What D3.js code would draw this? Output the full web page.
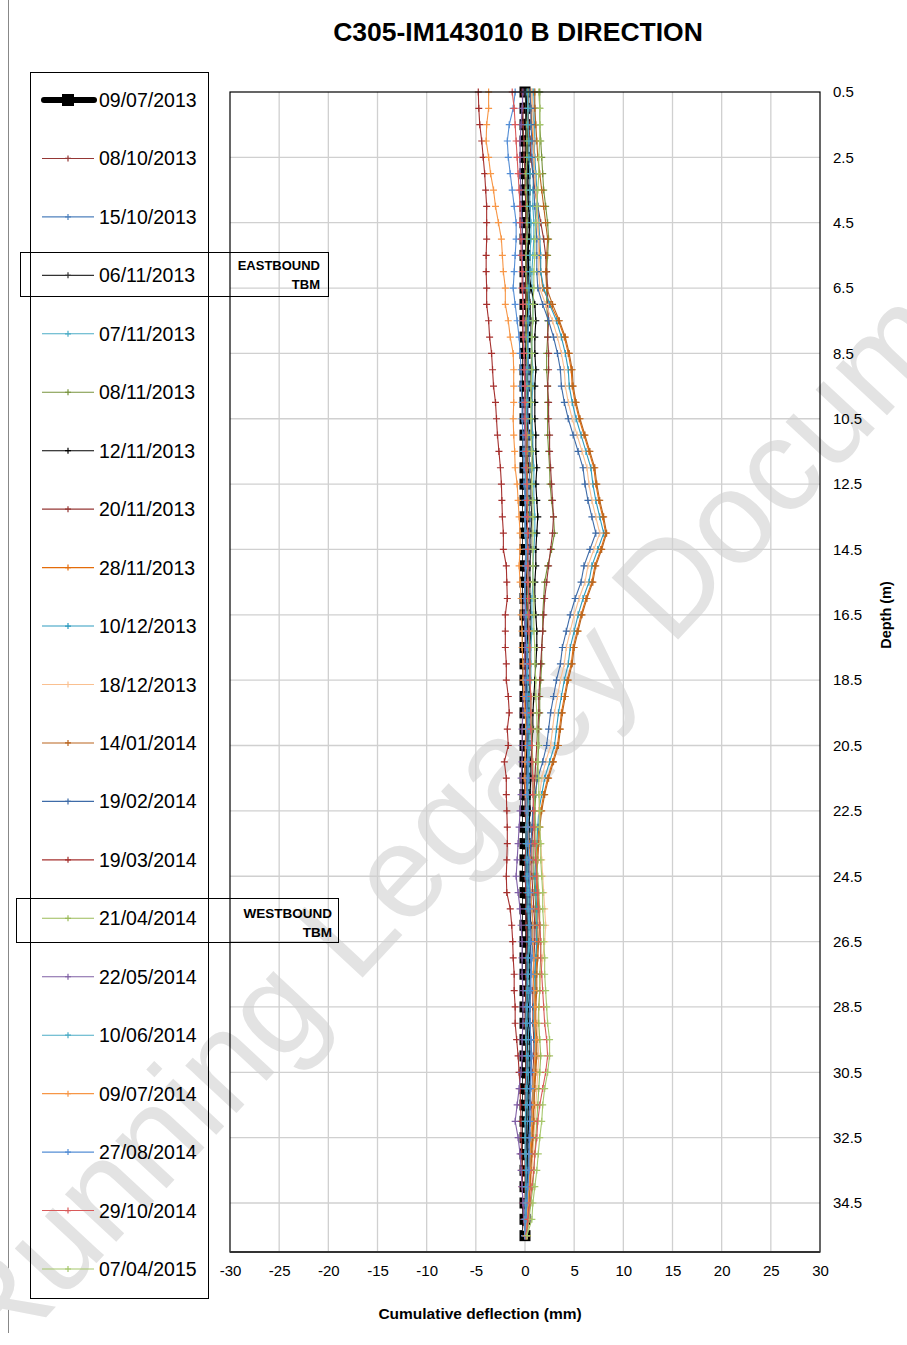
<!DOCTYPE html>
<html><head><meta charset="utf-8">
<script src="https://cdn.jsdelivr.net/npm/d3@7"></script>
<style>
body{margin:0;background:#fff}
svg{display:block}
text{font-family:"Liberation Sans",Arial,sans-serif;fill:#000}
</style>
</head><body>
<svg id="c" width="907" height="1345"></svg>
<script>
// ---------- DATA ----------
const depths = [0.5,1,1.5,2,2.5,3,3.5,4,4.5,5,5.5,6,6.5,7,7.5,8,8.5,9,9.5,10,10.5,11,11.5,12,12.5,13,13.5,14,14.5,15,15.5,16,16.5,17,17.5,18,18.5,19,19.5,20,20.5,21,21.5,22,22.5,23,23.5,24,24.5,25,25.5,26,26.5,27,27.5,28,28.5,29,29.5,30,30.5,31,31.5,32,32.5,33,33.5,34,34.5,35,35.5];
const xTicks = [-30,-25,-20,-15,-10,-5,0,5,10,15,20,25,30];
const yTicks = [0.5,2.5,4.5,6.5,8.5,10.5,12.5,14.5,16.5,18.5,20.5,22.5,24.5,26.5,28.5,30.5,32.5,34.5];
const dates = ["09/07/2013","08/10/2013","15/10/2013","06/11/2013","07/11/2013","08/11/2013","12/11/2013","20/11/2013","28/11/2013","10/12/2013","18/12/2013","14/01/2014","19/02/2014","19/03/2014","21/04/2014","22/05/2014","10/06/2014","09/07/2014","27/08/2014","29/10/2014","07/04/2015"];
const colors = ["#000000","#953735","#4F81BD","#333333","#4BACC6","#77933C","#000000","#953735","#E46C0A","#2E9BBF","#FAC090","#B9651F","#3E6BA8","#A5302E","#9BBB59","#7F5FA5","#4BACC6","#F79646","#558ED5","#D95A5A","#A6C76C"];

const d20130709 = [0,0,0,0,0,0,0,0,0,0, 0,0,0,0,0,0,0,0,0,0, 0,0,0,0,0,0,0,0,0,0, 0,0,0,0,0,0,0,0,0,0, 0,0,0,0,0,0,0,0,0,0, 0,0,0,0,0,0,0,0,0,0, 0,0,0,0,0,0,0,0,0,0, 0];
const d20131008 = [-0.3,-0.2,-0.2,-0.1,-0.1,0.0,0.0,0.1,0.1,0.1, 0.1,0.1,0.0,0.1,0.1,0.2,0.2,0.1,0.1,0.2, 0.2,0.2,0.3,0.3,0.2,0.2,0.3,0.2,0.2,0.1, 0.1,0.1,0.2,0.2,0.1,0.1,0.0,0.0,0.1,0.1, 0.0,0.0,-0.1,0.0,0.0,0.1,0.1,0.0,0.0,0.1, 0.1,0.1,0.2,0.1,0.1,0.1,0.0,0.0,0.1,0.1, 0.1,0.0,0.0,0.1,0.1,0.0,0.0,0.0,0.0,0.0, 0.0];
const d20131015 = [0.4,0.4,0.3,0.3,0.2,0.2,0.2,0.3,0.3,0.2, 0.2,0.3,0.3,0.4,0.4,0.3,0.3,0.4,0.4,0.3, 0.3,0.4,0.4,0.5,0.4,0.4,0.5,0.5,0.4,0.4, 0.3,0.3,0.4,0.4,0.3,0.3,0.3,0.2,0.2,0.3, 0.3,0.2,0.2,0.1,0.1,0.2,0.2,0.1,0.1,0.2, 0.2,0.3,0.3,0.2,0.2,0.2,0.1,0.1,0.2,0.2, 0.2,0.2,0.1,0.1,0.1,0.1,0.1,0.1,0.0,0.0, 0.0];
const d20131106 = [0.0,0.1,0.1,0.2,0.2,0.2,0.3,0.3,0.3,0.3, 0.3,0.3,0.4,0.5,0.6,0.6,0.7,0.6,0.6,0.7, 0.7,0.7,0.8,0.7,0.6,0.6,0.7,0.6,0.6,0.5, 0.5,0.5,0.6,0.6,0.5,0.5,0.5,0.4,0.4,0.4, 0.3,0.3,0.3,0.2,0.2,0.2,0.2,0.2,0.3,0.3, 0.3,0.3,0.3,0.3,0.3,0.2,0.2,0.2,0.2,0.3, 0.3,0.3,0.2,0.2,0.2,0.2,0.1,0.1,0.1,0.1, 0.0];
const d20131107 = [0.9,1.0,1.0,1.0,0.9,0.9,0.8,0.8,0.9,0.9, 0.8,0.7,0.7,0.8,0.8,0.7,0.7,0.8,0.8,0.7, 0.7,0.8,0.8,0.9,0.9,0.9,1.0,1.0,0.9,0.8, 0.8,0.7,0.7,0.7,0.6,0.6,0.6,0.5,0.5,0.5, 0.5,0.4,0.4,0.4,0.3,0.4,0.4,0.3,0.3,0.4, 0.4,0.5,0.5,0.4,0.4,0.4,0.3,0.3,0.4,0.4, 0.4,0.3,0.3,0.3,0.3,0.2,0.2,0.2,0.1,0.1, 0.0];
const d20131108 = [1.5,1.5,1.5,1.6,1.7,1.8,1.9,2.1,2.3,2.4, 2.3,2.2,2.2,2.2,2.3,2.3,2.2,2.2,2.3,2.3, 2.3,2.3,2.4,2.5,2.55,2.7,2.9,3.0,2.7,2.3, 2.0,1.9,1.8,1.8,1.7,1.7,1.6,1.5,1.5,1.4, 1.4,1.3,1.2,1.1,1.0,1.0,0.9,0.9,0.9,1.0, 1.1,1.1,1.2,1.1,1.1,1.0,1.0,1.0,1.1,1.1, 1.0,0.9,0.9,0.8,0.7,0.6,0.5,0.5,0.4,0.3, 0.2];
const d20131112 = [0.2,0.2,0.3,0.3,0.3,0.4,0.4,0.4,0.5,0.4, 0.3,0.4,0.6,1.0,1.1,1.0,1.0,1.1,1.0,1.0, 1.0,1.1,1.1,1.2,1.1,1.2,1.3,1.2,1.1,1.1, 1.0,1.0,1.1,1.2,1.2,1.1,1.0,0.9,0.8,0.8, 0.7,0.6,0.6,0.5,0.5,0.4,0.4,0.4,0.4,0.5, 0.5,0.6,0.6,0.5,0.5,0.5,0.4,0.4,0.5,0.5, 0.5,0.4,0.4,0.4,0.3,0.3,0.3,0.2,0.2,0.1, 0.1];
const d20131120 = [0.3,0.3,0.4,0.5,0.6,0.8,1.0,1.3,1.6,1.9, 2.1,2.2,2.3,2.3,2.4,2.3,2.4,2.4,2.3,2.4, 2.4,2.5,2.5,2.6,2.7,2.8,2.9,2.8,2.6,2.4, 2.2,2.0,1.9,1.8,1.7,1.6,1.5,1.4,1.4,1.3, 1.2,1.1,1.0,0.9,0.8,0.8,0.7,0.7,0.7,0.8, 0.9,1.0,1.0,0.9,0.9,0.8,0.8,0.8,0.9,0.9, 0.8,0.8,0.7,0.7,0.6,0.5,0.5,0.4,0.3,0.2, 0.1];
const d20131128 = [0.6,0.6,0.7,0.8,0.9,1.0,1.1,1.2,1.3,1.4, 1.5,1.6,1.8,2.6,3.4,4.0,4.4,4.7,4.8,5.1, 5.5,6.0,6.5,7.0,7.2,7.5,7.9,8.2,7.7,7.1, 6.8,6.2,5.7,5.3,4.9,4.7,4.3,4.0,3.7,3.5, 3.3,2.8,2.3,1.9,1.6,1.4,1.3,1.2,1.1,1.2, 1.3,1.3,1.3,1.2,1.1,1.1,1.0,1.0,1.1,1.1, 1.0,0.9,0.9,0.8,0.7,0.6,0.5,0.5,0.4,0.3, 0.2];
const d20131210 = [0.8,0.8,0.9,0.9,1.0,1.1,1.2,1.3,1.4,1.5, 1.6,1.6,1.9,2.5,3.2,3.7,4.1,4.4,4.5,4.8, 5.2,5.7,6.2,6.7,6.9,7.2,7.6,8.0,7.4,6.8, 6.5,5.9,5.4,5.0,4.6,4.4,4.0,3.7,3.4,3.2, 3.0,2.5,2.0,1.7,1.4,1.3,1.2,1.1,1.0,1.1, 1.2,1.2,1.2,1.1,1.0,1.0,0.9,0.9,1.0,1.0, 0.9,0.8,0.8,0.7,0.6,0.5,0.5,0.4,0.3,0.3, 0.2];
const d20131218 = [0.7,0.8,0.8,0.9,0.9,1.0,1.1,1.2,1.3,1.4, 1.4,1.4,1.5,2.1,2.8,3.3,3.7,4.0,4.1,4.4, 4.8,5.3,5.8,6.3,6.5,6.8,7.2,7.6,7.0,6.4, 6.1,5.5,5.0,4.6,4.2,4.0,3.6,3.3,3.0,2.8, 2.6,2.1,1.7,1.5,1.4,1.5,1.6,1.7,1.8,1.9, 2.0,2.1,2.0,1.8,1.6,1.5,1.4,1.3,1.3,1.4, 1.3,1.2,1.1,1.0,0.9,0.8,0.7,0.6,0.5,0.4, 0.2];
const d20140114 = [1.0,1.0,1.1,1.2,1.3,1.5,1.7,1.9,2.1,2.3, 2.2,2.1,2.2,2.8,3.5,4.1,4.5,4.8,4.9,5.2, 5.6,6.1,6.6,7.1,7.3,7.6,8.0,8.3,7.8,7.2, 6.9,6.3,5.8,5.4,5.0,4.8,4.4,4.1,3.8,3.6, 3.4,2.9,2.4,2.0,1.7,1.5,1.4,1.3,1.2,1.3, 1.4,1.5,1.4,1.3,1.2,1.2,1.1,1.1,1.2,1.2, 1.1,1.0,0.9,0.9,0.8,0.7,0.6,0.5,0.4,0.3, 0.2];
const d20140219 = [0.5,0.6,0.6,0.7,0.7,0.8,0.9,1.0,1.1,1.2, 1.2,1.2,1.3,1.8,2.4,2.9,3.3,3.6,3.7,4.0, 4.4,4.9,5.4,5.9,6.1,6.4,6.8,7.2,6.6,6.0, 5.7,5.1,4.6,4.2,3.8,3.6,3.2,2.9,2.6,2.4, 2.2,1.8,1.3,1.0,0.8,0.7,0.6,0.5,0.5,0.6, 0.7,0.8,0.8,0.7,0.6,0.6,0.5,0.5,0.6,0.7, 0.6,0.5,0.5,0.5,0.4,0.4,0.3,0.3,0.2,0.2, 0.1];
const d20140319 = [-4.75,-4.7,-4.6,-4.4,-4.25,-4.1,-4.0,-3.9,-3.9,-3.9, -3.95,-3.95,-3.9,-3.9,-3.7,-3.6,-3.4,-3.3,-3.2,-3.0, -2.9,-2.8,-2.65,-2.5,-2.4,-2.35,-2.3,-2.2,-2.2,-1.9, -1.85,-1.8,-2.0,-2.0,-2.0,-1.9,-1.9,-1.7,-1.6,-1.8, -1.7,-2.1,-1.9,-1.9,-1.85,-1.8,-1.8,-1.85,-1.9,-1.85, -1.5,-1.35,-1.25,-1.2,-1.1,-1.1,-1.0,-1.0,-0.85,-0.7, -0.6,-0.5,-0.45,-0.4,-0.4,-0.35,-0.3,-0.3,-0.2,-0.15, 0.0];
const d20140421 = [0.3,0.3,0.2,0.2,0.2,0.1,0.1,0.2,0.2,0.2, 0.1,0.1,0.2,0.2,0.1,0.1,0.2,0.2,0.2,0.1, 0.1,0.2,0.2,0.2,0.2,0.3,0.3,0.2,0.2,0.2, 0.3,0.3,0.3,0.4,0.4,0.5,0.5,0.6,0.6,0.7, 0.7,0.8,0.8,0.9,1.0,1.1,1.1,1.2,1.3,1.4, 1.5,1.5,1.6,1.6,1.5,1.5,1.4,1.4,1.5,1.6, 1.5,1.4,1.3,1.2,1.1,1.0,0.9,0.8,0.6,0.4, 0.2];
const d20140522 = [-0.2,-0.3,-0.4,-0.5,-0.5,-0.5,-0.4,-0.4,-0.3,-0.3, -0.3,-0.2,-0.2,-0.2,-0.1,-0.1,-0.1,0.0,0.0,-0.1, -0.1,0.0,0.0,0.0,0.1,0.1,0.0,0.0,0.1,0.0, 0.0,-0.1,-0.1,0.0,0.0,-0.1,-0.1,-0.2,-0.2,-0.3, -0.3,-0.3,-0.4,-0.4,-0.5,-0.6,-0.7,-0.8,-0.9,-0.7, -0.5,-0.4,-0.3,-0.3,-0.3,-0.2,-0.2,-0.2,-0.3,-0.3, -0.4,-0.6,-0.8,-1.0,-0.7,-0.5,-0.4,-0.3,-0.2,-0.1, 0.0];
const d20140610 = [0.2,0.3,0.3,0.4,0.4,0.5,0.5,0.5,0.6,0.6, 0.5,0.5,0.4,0.4,0.3,0.3,0.3,0.2,0.2,0.2, 0.1,0.1,0.0,0.0,0.1,0.1,0.0,0.0,0.1,0.1, 0.0,0.0,0.1,0.1,0.2,0.2,0.3,0.3,0.3,0.4, 0.4,0.3,0.3,0.2,0.2,0.1,0.1,0.2,0.2,0.3, 0.3,0.4,0.4,0.3,0.3,0.2,0.2,0.1,0.1,0.2, 0.2,0.1,0.1,0.0,0.0,0.0,0.1,0.1,0.1,0.0, 0.0];
const d20140709 = [-3.7,-3.7,-3.9,-3.95,-3.7,-3.5,-3.2,-3.0,-2.7,-2.4, -2.3,-2.2,-2.0,-2.0,-1.7,-1.5,-1.2,-1.15,-1.15,-1.15, -1.2,-1.15,-1.05,-1.0,-0.8,-0.7,-0.6,-0.5,-0.5,-0.6, -0.5,-0.4,-0.4,-0.3,-0.3,-0.2,-0.2,-0.1,0.0,0.1, 0.1,0.0,0.0,0.1,0.2,0.3,0.4,0.5,0.5,0.6, 0.7,0.8,0.8,0.9,0.8,0.9,1.0,1.0,1.1,1.0, 0.9,0.8,0.8,0.7,0.6,0.5,0.5,0.4,0.3,0.2, 0.1];
const d20140827 = [-1.0,-1.2,-1.6,-1.8,-1.7,-1.5,-1.3,-1.1,-0.9,-0.9, -1.0,-1.1,-1.2,-1.0,-0.8,-0.6,-0.5,-0.4,-0.4,-0.3, -0.3,-0.2,-0.2,-0.1,-0.1,0.0,0.0,0.1,0.1,0.1, 0.0,0.0,0.1,0.1,0.2,0.2,0.1,0.1,0.2,0.2, 0.2,0.3,0.3,0.2,0.2,0.3,0.3,0.4,0.4,0.5, 0.5,0.5,0.6,0.6,0.6,0.5,0.5,0.5,0.6,0.6, 0.6,0.6,0.5,0.5,0.5,0.4,0.4,0.3,0.2,0.1, 0.0];
const d20141029 = [-1.3,-1.1,-1.0,-0.9,-0.8,-0.7,-0.6,-0.5,-0.5,-0.4, -0.4,-0.3,-0.3,-0.2,-0.2,-0.2,-0.1,-0.1,0.0,0.0, 0.0,0.1,0.1,0.1,0.2,0.2,0.2,0.3,0.3,0.3, 0.3,0.4,0.4,0.4,0.5,0.5,0.5,0.6,0.6,0.6, 0.7,0.7,0.8,0.8,0.9,0.9,1.0,1.1,1.2,1.3, 1.4,1.5,1.6,1.6,1.7,1.8,1.9,2.0,2.2,2.3, 2.1,1.8,1.5,1.3,1.2,1.0,0.9,0.7,0.5,0.3, 0.1];
const d20150407 = [1.4,1.5,1.5,1.5,1.4,1.4,1.3,1.2,1.1,1.0, 1.0,0.9,0.9,0.8,0.8,0.7,0.7,0.7,0.6,0.6, 0.6,0.6,0.7,0.7,0.7,0.8,0.8,0.8,0.8,0.8, 0.8,0.9,0.9,0.9,1.0,1.0,1.1,1.1,1.2,1.2, 1.3,1.3,1.4,1.4,1.5,1.5,1.6,1.6,1.7,1.8, 1.8,1.9,1.9,2.0,2.0,2.1,2.2,2.3,2.5,2.5, 2.3,2.0,1.8,1.7,1.5,1.35,1.2,1.0,0.8,0.7, 0.2];

const seriesValues = [d20130709,d20131008,d20131015,d20131106,d20131107,d20131108,d20131112,d20131120,d20131128,d20131210,d20131218,d20140114,d20140219,d20140319,d20140421,d20140522,d20140610,d20140709,d20140827,d20141029,d20150407];

// ---------- CHART ----------
const svg = d3.select("#c");
const W = 907, H = 1345;
const plot = {left:230, right:820, top:92, bottom:1252};
const x = d3.scaleLinear().domain([-30,30]).range([plot.left, plot.right]);
const y = d3.scaleLinear().domain([0.5,36]).range([plot.top, plot.bottom]);

svg.append("rect").attr("width",W).attr("height",H).attr("fill","#fff");
svg.append("line").attr("x1",8.5).attr("x2",8.5).attr("y1",0).attr("y2",1333).attr("stroke","#888").attr("stroke-width",1);

// watermark
svg.append("text")
  .attr("transform","translate(-5,1372) rotate(-47)")
  .attr("font-size",132)
  .style("fill","#e3e3e3")
  .text("Running Legacy Document");

// gridlines
const grid = svg.append("g");
grid.selectAll("line.v").data(xTicks.slice(1,-1)).join("line")
  .attr("x1",d=>x(d)).attr("x2",d=>x(d)).attr("y1",plot.top).attr("y2",plot.bottom)
  .attr("stroke","#d0d0d0").attr("stroke-width",1.3);
grid.selectAll("line.h").data(yTicks.slice(1)).join("line")
  .attr("x1",plot.left).attr("x2",plot.right).attr("y1",d=>y(d)).attr("y2",d=>y(d))
  .attr("stroke","#d0d0d0").attr("stroke-width",1.3);

// axes
const xAxis = svg.append("g").attr("transform",`translate(0,${plot.bottom})`)
  .call(d3.axisBottom(x).tickValues(xTicks).tickSize(0).tickPadding(13).tickFormat(d=>String(d)));
xAxis.select(".domain").remove();
xAxis.selectAll("text").attr("font-size",15).style("font-family","Liberation Sans, Arial");
const yAxis = svg.append("g").attr("transform",`translate(${plot.right},0)`)
  .call(d3.axisRight(y).tickValues(yTicks).tickSize(0).tickPadding(13).tickFormat(d3.format(".1f")));
yAxis.select(".domain").remove();
yAxis.selectAll("text").attr("font-size",15).style("font-family","Liberation Sans, Arial");

// series
const line = d3.line().x(d=>x(d[1])).y(d=>y(d[0]));
const plotG = svg.append("g");
seriesValues.forEach((vals,i)=>{
  const pts = depths.map((d,j)=>[d, vals[j]]);
  const g = plotG.append("g");
  if(i===0){
    g.append("path").attr("d",line(pts)).attr("fill","none").attr("stroke","#000").attr("stroke-width",6);
    g.selectAll("rect").data(pts).join("rect")
      .attr("x",d=>x(d[1])-5.5).attr("y",d=>y(d[0])-5.5).attr("width",11).attr("height",11).attr("fill","#000");
    g.append("path").attr("d",line(pts)).attr("fill","none").attr("stroke","#fff").attr("stroke-width",2.5)
      .attr("stroke-dasharray","5,11.35").attr("stroke-dashoffset",-5.5).attr("transform","translate(-1,0)");
  } else {
    g.append("path").attr("d",line(pts)).attr("fill","none").attr("stroke",colors[i]).attr("stroke-width",1.1);
    g.append("path").attr("d",pts.map(d=>`M${x(d[1])-3.5},${y(d[0])}h7M${x(d[1])},${y(d[0])-3.5}v7`).join(""))
      .attr("stroke",colors[i]).attr("stroke-width",1.2).attr("fill","none");
  }
});

// plot border
svg.append("rect").attr("x",plot.left).attr("y",plot.top).attr("width",plot.right-plot.left).attr("height",plot.bottom-plot.top)
  .attr("fill","none").attr("stroke","#000").attr("stroke-width",1.2);
svg.append("line").attr("x1",plot.left).attr("x2",plot.right).attr("y1",plot.bottom).attr("y2",plot.bottom).attr("stroke","#333").attr("stroke-width",2);

// titles
svg.append("text").attr("x",518).attr("y",41).attr("text-anchor","middle")
  .attr("font-size",26.5).attr("font-weight","bold").text("C305-IM143010 B DIRECTION");
svg.append("text").attr("x",480).attr("y",1319).attr("text-anchor","middle")
  .attr("font-size",15.5).attr("font-weight","bold").text("Cumulative deflection (mm)");
svg.append("text").attr("transform","translate(891,615) rotate(-90)").attr("text-anchor","middle")
  .attr("font-size",14.5).attr("font-weight","bold").text("Depth (m)");

// legend
const lg = svg.append("g");
lg.append("rect").attr("x",30.5).attr("y",72.5).attr("width",178).attr("height",1226)
  .attr("fill","none").attr("stroke","#000").attr("stroke-width",1);
dates.forEach((name,i)=>{
  const cy = 100 + i*58.45;
  if(i===0){
    lg.append("line").attr("x1",44).attr("x2",94).attr("y1",cy).attr("y2",cy).attr("stroke","#000").attr("stroke-width",6).attr("stroke-linecap","round");
    lg.append("rect").attr("x",62).attr("y",cy-6).attr("width",12).attr("height",12).attr("fill","#000");
  } else {
    lg.append("line").attr("x1",42).attr("x2",94).attr("y1",cy).attr("y2",cy).attr("stroke",colors[i]).attr("stroke-width",1.1);
    lg.append("path").attr("d",`M${65},${cy}h6M${68},${cy-3}v6`).attr("stroke",colors[i]).attr("stroke-width",1.2);
  }
  lg.append("text").attr("x",99).attr("y",cy+7).attr("font-size",19.5).text(name);
});

// annotations
function annot(x0,y0,w,h,l1,l2,xr,b1,b2,fs){
  svg.append("rect").attr("x",x0).attr("y",y0).attr("width",w).attr("height",h).attr("fill","none").attr("stroke","#000").attr("stroke-width",1);
  svg.append("text").attr("x",xr).attr("y",b1).attr("text-anchor","end").attr("font-size",fs).attr("font-weight","bold").text(l1);
  svg.append("text").attr("x",xr).attr("y",b2).attr("text-anchor","end").attr("font-size",fs).attr("font-weight","bold").text(l2);
}
annot(20.5,252.5,308,44,"EASTBOUND","TBM",320,270,289,13);
annot(16.5,898.5,322,44,"WESTBOUND","TBM",332,918,937,13.5);
</script>
</body></html>
